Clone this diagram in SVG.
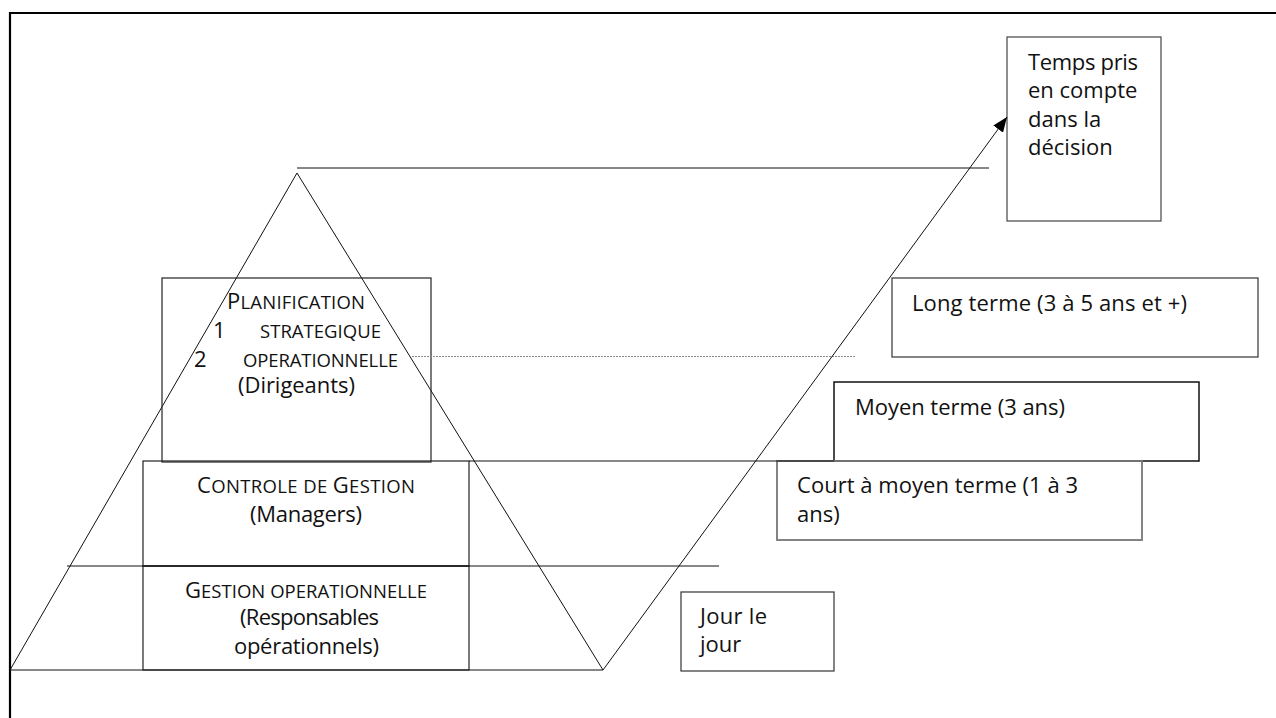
<svg xmlns="http://www.w3.org/2000/svg" width="1276" height="718" viewBox="0 0 1276 718">
<style>
  text { font-family: "Open Sans", "Liberation Sans", sans-serif; font-size: 22px; fill: #111; }
  .sc { font-size: 18.5px; }
  .box { fill: none; stroke: #222; stroke-width: 1.2; }
  .gbox { fill: none; stroke: #777; stroke-width: 1.8; }
  .ln { stroke: #111; stroke-width: 1; fill: none; }
  .frame { stroke: #000; stroke-width: 2.2; fill: none; }
</style>
<defs>
  <marker id="arr" markerUnits="userSpaceOnUse" markerWidth="16" markerHeight="12" refX="15" refY="6" orient="auto">
    <path d="M0,0 L15,6 L0,12 z" fill="#000"/>
  </marker>
</defs>
<rect x="0" y="0" width="1276" height="718" fill="#fff"/>
<g id="frame">
  <path class="frame" d="M10,718 L10,13 L1276,13"/>
</g>
<g id="pyramid">
  <path class="ln" d="M297,173 L10,670 L603,670 Z"/>
</g>
<g id="planification">
  <rect class="box" x="162" y="278" width="269" height="184"/>
  <text x="227" y="309" textLength="138" lengthAdjust="spacing">P<tspan class="sc">LANIFICATION</tspan></text>
  <text x="213" y="338">1</text>
  <text x="260" y="338" class="sc" textLength="121" lengthAdjust="spacing">STRATEGIQUE</text>
  <text x="194" y="367">2</text>
  <text x="243" y="367" class="sc" textLength="155" lengthAdjust="spacing">OPERATIONNELLE</text>
  <text x="238" y="393" textLength="117" lengthAdjust="spacing">(Dirigeants)</text>
</g>
<g id="controle">
  <rect class="box" x="143" y="461" width="326" height="105"/>
  <text x="197" y="493" textLength="218" lengthAdjust="spacing">C<tspan class="sc">ONTROLE DE </tspan>G<tspan class="sc">ESTION</tspan></text>
  <text x="250" y="522" textLength="112" lengthAdjust="spacing">(Managers)</text>
</g>
<g id="gestion">
  <rect class="box" x="143" y="566" width="326" height="104"/>
  <text x="185" y="598" textLength="242" lengthAdjust="spacing">G<tspan class="sc">ESTION OPERATIONNELLE</tspan></text>
  <text x="240" y="625" textLength="139" lengthAdjust="spacing">(Responsables</text>
  <text x="234" y="654" textLength="145" lengthAdjust="spacing">opérationnels)</text>
</g>
<g id="temps">
  <rect class="box" x="1007" y="37" width="154" height="184" style="stroke:#444"/>
  <text x="1028" y="70" textLength="110" lengthAdjust="spacing">Temps pris</text>
  <text x="1028" y="98">en compte</text>
  <text x="1028" y="127">dans la</text>
  <text x="1028" y="155">décision</text>
</g>
<g id="long-terme">
  <rect class="box" x="892" y="278" width="366" height="79" style="stroke:#333"/>
  <text x="912" y="311" textLength="275" lengthAdjust="spacing">Long terme (3 à 5 ans et +)</text>
</g>
<g id="moyen-terme">
  <rect class="box" x="834" y="382" width="365" height="79" style="stroke:#111;stroke-width:1.5"/>
  <text x="855" y="415" textLength="210" lengthAdjust="spacing">Moyen terme (3 ans)</text>
</g>
<g id="court-terme">
  <rect class="gbox" x="777" y="461" width="365" height="79"/>
  <text x="797" y="493" textLength="281" lengthAdjust="spacing">Court à moyen terme (1 à 3</text>
  <text x="797" y="522">ans)</text>
</g>
<g id="jour">
  <rect class="box" x="681" y="592" width="153" height="79" style="stroke:#333"/>
  <text x="700" y="624" textLength="67" lengthAdjust="spacing">Jour le</text>
  <text x="700" y="652">jour</text>
</g>
<g id="connectors">
  <line class="ln" x1="297" y1="168" x2="989" y2="168"/>
  <line class="ln" x1="469" y1="461" x2="834" y2="461"/>
  <line class="ln" x1="67" y1="566" x2="719" y2="566"/>
  <line x1="412" y1="356.5" x2="855" y2="356.5" stroke="#888" stroke-width="1" stroke-dasharray="2,1"/>
  <line class="ln" x1="603" y1="670" x2="1007" y2="117" marker-end="url(#arr)"/>
</g>
</svg>
